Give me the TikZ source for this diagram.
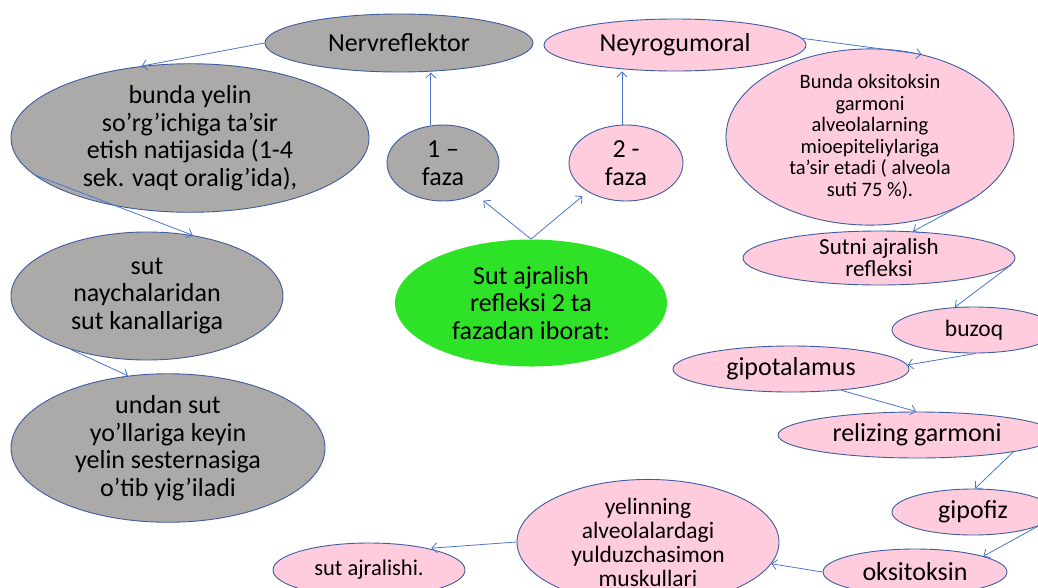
\documentclass[tikz,border=0pt]{standalone}
\usepackage{fontspec}
\setmainfont{Carlito}
\usetikzlibrary{shapes.geometric,arrows.meta}
\definecolor{grayfill}{RGB}{172,169,169}
\definecolor{pinkfill}{RGB}{255,204,222}
\definecolor{greenfill}{RGB}{46,226,40}
\definecolor{edgeblue}{RGB}{62,92,160}
\definecolor{linkblue}{RGB}{74,118,200}
\tikzset{
  oval/.style={ellipse, draw=edgeblue, line width=0.9pt, inner sep=0pt, align=center, font=\fontsize{26}{27.5}\selectfont},
  grayoval/.style={oval, fill=grayfill},
  pinkoval/.style={oval, fill=pinkfill},
  smalltext/.style={font=\fontsize{20.5}{21.5}\selectfont},
  midtext/.style={font=\fontsize{23.5}{24}\selectfont},
  link/.style={-{Straight Barb[length=5pt,width=10pt]}, draw=linkblue, line width=0.8pt}
}
\begin{document}
\begin{tikzpicture}[x=1pt,y=-1pt]
    \useasboundingbox (0,0) rectangle (1038,587);
    \clip (0,0) rectangle (1038,587);
    \node[grayoval, minimum width=268pt, minimum height=58pt] (nerv) at (399,43) {Nervreflektor};
    \node[pinkoval, minimum width=262pt, minimum height=52pt] (neyro) at (675,45) {Neyrogumoral};
    \node[grayoval, minimum width=358pt, minimum height=126pt] (bunda) at (190,138) {bunda yelin\\ so’rg’ichiga ta’sir\\ etish natijasida (1-4\\ sek. vaqt oralig’ida),};
    \node[grayoval, minimum width=112pt, minimum height=76pt] (onefaza) at (443,163) {1 –\\ faza};
    \node[pinkoval, minimum width=114pt, minimum height=76pt] (twofaza) at (626,163) {2 -\\ faza};
    \node[pinkoval, smalltext, minimum width=288pt, minimum height=144pt] (okt) at (870,137) {Bunda oksitoksin\\ garmoni\\ alveolalarning\\ mioepiteliylariga\\ ta’sir etadi ( alveola\\ suti 75 \%).};
    \node[pinkoval, font=\fontsize{23}{22}\selectfont, minimum width=272pt, minimum height=54pt] (sutni) at (879,258) {Sutni ajralish\\ refleksi};
    \node[oval, draw=none, fill=greenfill, minimum width=272pt, minimum height=127pt] (sut) at (531,303) {Sut ajralish\\ refleksi 2 ta\\ fazadan iborat:};
    \node[grayoval, minimum width=272pt, minimum height=128pt] (naych) at (147,296) {sut\\ naychalaridan\\ sut kanallariga};
    \node[grayoval, minimum width=314pt, minimum height=128pt] (undan) at (168,448) {undan sut\\ yo’llariga keyin\\ yelin sesternasiga\\ o’tib yig’iladi};
    \node[pinkoval, midtext, minimum width=164pt, minimum height=46pt] (buzoq) at (974,330) {buzoq};
    \node[pinkoval, minimum width=236pt, minimum height=46pt] (gipot) at (791,369) {gipotalamus};
    \node[pinkoval, minimum width=278pt, minimum height=46pt] (rel) at (917,435) {relizing garmoni};
    \node[pinkoval, minimum width=162pt, minimum height=46pt] (gipofiz) at (973,512) {gipofiz};
    \node[pinkoval, minimum width=184pt, minimum height=46pt] (oks) at (915,572) {oksitoksin};
    \node[pinkoval, midtext, minimum width=262pt, minimum height=106pt] (yel) at (648,542) {yelinning\\ alveolalardagi\\ yulduzchasimon\\ muskullari};
    \node[pinkoval, font=\fontsize{22.5}{24}\selectfont, minimum width=192pt, minimum height=54pt] (sutaj) at (369,570) {sut ajralishi.};
    \draw[link] (nerv.west) -- (bunda.124);
    \draw[link] (onefaza.108) -- (onefaza.108 |- nerv.south);
    \draw[link] (twofaza.96) -- (twofaza.96 |- neyro.south);
    \draw[link] (neyro.3) -- (okt.58);
    \draw[link] (okt.-30) -- (sutni.38);
    \draw[link, shorten >=10pt] (sut.north) -- (onefaza.-44);
    \draw[link, shorten >=7pt] (sut.north) -- (twofaza.217);
    \draw[link] (bunda.193) -- (naych.53);
    \draw[link] (naych.215) -- (undan.119);
    \draw[link] (sutni.-3) -- (buzoq.130);
    \draw[link] (buzoq.-85) -- (gipot.2);
    \draw[link] (gipot.-23) -- (rel.92);
    \draw[link] (rel.-10) -- (gipofiz.85);
    \draw[link] (gipofiz.-12) -- (oks.13);
    \draw[link] (oks.west) -- (yel.-10);
    \draw[link, shorten >=3pt] (yel.west) -- (sutaj.20);
\end{tikzpicture}
\end{document}
